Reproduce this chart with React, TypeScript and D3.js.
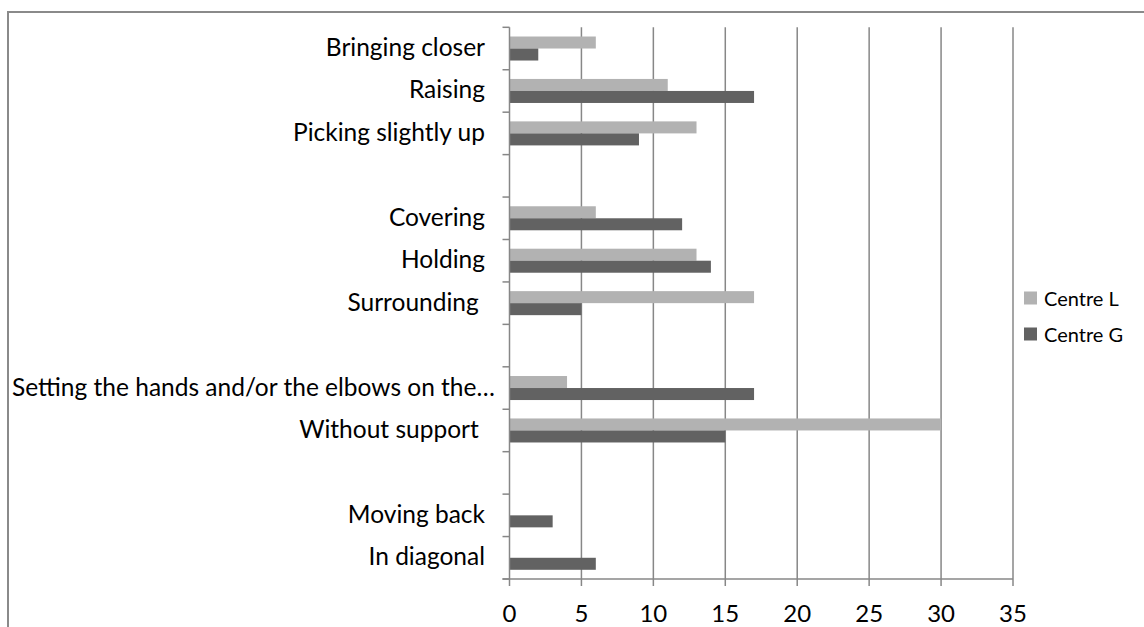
import React, { useEffect, useRef } from "react";
import * as d3 from "d3";

const categories: string[] = [
  "Bringing closer",
  "Raising",
  "Picking slightly up",
  "",
  "Covering",
  "Holding",
  "Surrounding ",
  "",
  "Setting the hands and/or the elbows on the…",
  "Without support ",
  "",
  "Moving back",
  "In diagonal",
];
const centreL: (number | null)[] = [6, 11, 13, null, 6, 13, 17, null, 4, 30, null, null, null];
const centreG: (number | null)[] = [2, 17, 9, null, 12, 14, 5, null, 17, 15, null, 3, 6];
const seriesNames = ["Centre L", "Centre G"];
const seriesColors = ["#b2b2b2", "#626262"];
const xTicks = [0, 5, 10, 15, 20, 25, 30, 35];

const W = 1144;
const H = 627;
const FONT = "Lato, 'Open Sans', sans-serif";

export default function App() {
  const ref = useRef<SVGSVGElement | null>(null);

  useEffect(() => {
    const svg = d3.select(ref.current);
    svg.selectAll("*").remove();

    const x = d3.scaleLinear().domain([0, 35]).range([509.5, 1013]);
    const y = d3
      .scaleBand<number>()
      .domain(categories.map((_, i) => i))
      .range([27.3, 579])
      .paddingInner(0)
      .paddingOuter(0);
    const inner = d3
      .scaleBand<string>()
      .domain(seriesNames)
      .range([0, y.bandwidth()])
      .paddingInner(0)
      .paddingOuter(0.767);

    const gridColor = "#878787";
    const top = 27.3;
    const bottom = 579;
    const x0 = x(0);

    // outer frame (cropped on right/bottom)
    svg
      .append("rect")
      .attr("x", 8)
      .attr("y", 12)
      .attr("width", 1300)
      .attr("height", 800)
      .attr("fill", "#fff")
      .attr("stroke", "#8a8a8a")
      .attr("stroke-width", 2);

    // vertical gridlines
    svg
      .append("g")
      .selectAll("line")
      .data(xTicks.filter((t) => t > 0))
      .join("line")
      .attr("x1", (d) => x(d))
      .attr("x2", (d) => x(d))
      .attr("y1", top)
      .attr("y2", bottom + 7)
      .attr("stroke", gridColor)
      .attr("stroke-width", 1.5);

    // bars
    const series = [centreL, centreG];
    series.forEach((vals, si) => {
      svg
        .append("g")
        .selectAll("rect")
        .data(vals.map((v, i) => ({ v, i })).filter((d) => d.v != null && (d.v as number) > 0))
        .join("rect")
        .attr("x", x0)
        .attr("y", (d) => (y(d.i) as number) + (inner(seriesNames[si]) as number))
        .attr("width", (d) => x(d.v as number) - x0)
        .attr("height", inner.bandwidth())
        .attr("fill", seriesColors[si]);
    });

    // y axis line + ticks
    svg
      .append("line")
      .attr("x1", x0)
      .attr("x2", x0)
      .attr("y1", top)
      .attr("y2", bottom + 7)
      .attr("stroke", gridColor)
      .attr("stroke-width", 1.5);
    const bounds = d3.range(categories.length + 1).map((i) => top + i * y.step());
    svg
      .append("g")
      .selectAll("line")
      .data(bounds)
      .join("line")
      .attr("x1", x0 - 7)
      .attr("x2", x0)
      .attr("y1", (d) => d)
      .attr("y2", (d) => d)
      .attr("stroke", gridColor)
      .attr("stroke-width", 1.5);

    // x axis line
    svg
      .append("line")
      .attr("x1", x0 - 7)
      .attr("x2", x(35))
      .attr("y1", bottom)
      .attr("y2", bottom)
      .attr("stroke", gridColor)
      .attr("stroke-width", 1.5);

    // x tick labels
    svg
      .append("g")
      .selectAll("text")
      .data(xTicks)
      .join("text")
      .attr("x", (d) => x(d))
      .attr("y", 612)
      .attr("text-anchor", "middle")
      .attr("dominant-baseline", "central")
      .attr("font-family", FONT)
      .attr("font-size", 24)
      .attr("fill", "#000")
      .text((d) => String(d));

    // category labels
    const labelRight = 485;
    const labels = svg
      .append("g")
      .selectAll("text")
      .data(categories.map((c, i) => ({ c, i })).filter((d) => d.c !== ""))
      .join("text")
      .attr("x", labelRight)
      .attr("y", (d) => (y(d.i) as number) + y.bandwidth() / 2 - 2)
      .attr("text-anchor", "end")
      .attr("dominant-baseline", "central")
      .attr("font-family", FONT)
      .attr("font-size", 24.5)
      .attr("fill", "#000")
      .style("white-space", "pre")
      .text((d) => d.c);
    labels.each(function () {
      const t = this as SVGTextElement;
      const len = t.getComputedTextLength();
      if (labelRight - len < 12) {
        d3.select(t).attr("text-anchor", "start").attr("x", 12);
      }
    });

    // legend
    const legY = [298, 334];
    seriesNames.forEach((name, i) => {
      svg
        .append("rect")
        .attr("x", 1024)
        .attr("y", legY[i] - 6.5)
        .attr("width", 13)
        .attr("height", 13)
        .attr("fill", seriesColors[i]);
      svg
        .append("text")
        .attr("x", 1044)
        .attr("y", legY[i])
        .attr("dominant-baseline", "central")
        .attr("font-family", FONT)
        .attr("font-size", 20)
        .attr("fill", "#000")
        .text(name);
    });
  }, []);

  return (
    <svg
      ref={ref}
      width={W}
      height={H}
      style={{ position: "absolute", left: 0, top: 0, display: "block" }}
    />
  );
}
